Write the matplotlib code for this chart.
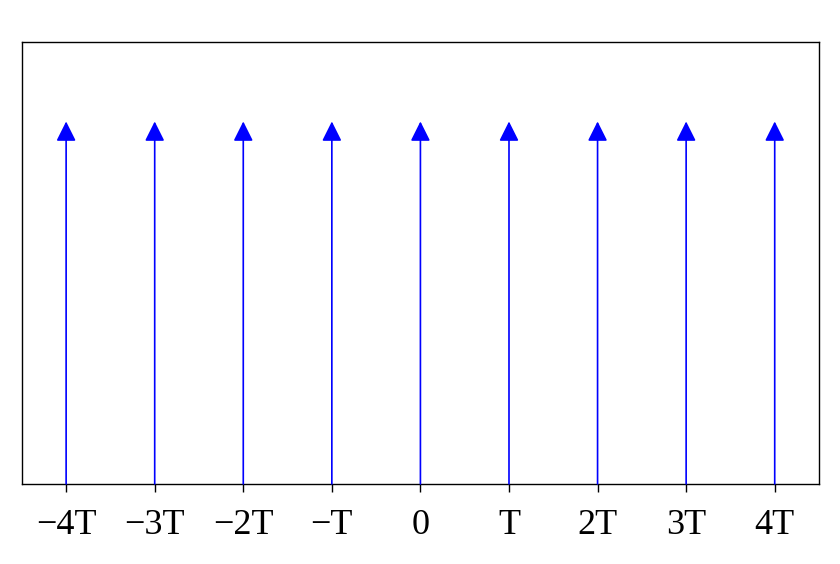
import matplotlib
matplotlib.use('Agg')
import matplotlib.pyplot as plt

# Dirac comb: unit impulses at integer multiples of T
positions = [-4, -3, -2, -1, 0, 1, 2, 3, 4]
heights = [1, 1, 1, 1, 1, 1, 1, 1, 1]
tick_labels = ['\u22124T', '\u22123T', '\u22122T', '\u2212T', '0', 'T', '2T', '3T', '4T']

fig = plt.figure(figsize=(8.4, 5.64), dpi=100)
ax = fig.add_axes([0.026, 0.142, 0.949, 0.784])

# Draw each impulse as an arrow
for x, h in zip(positions, heights):
    ax.annotate('', xy=(x, h), xytext=(x, 0),
                arrowprops=dict(arrowstyle='-|>,head_length=0.6,head_width=0.3',
                                mutation_scale=20, color='blue', lw=1.2,
                                shrinkA=0, shrinkB=0))

ax.set_xlim(-4.5, 4.5)
ax.set_ylim(0, 1.22)
ax.set_yticks([])
ax.set_xticks(positions)
ax.set_xticklabels(tick_labels, family='Liberation Serif', fontsize=26)
ax.tick_params(axis='x', length=6, width=1, pad=12)
for s in ax.spines.values():
    s.set_linewidth(1.0)

fig.savefig('out.png', dpi=100)
